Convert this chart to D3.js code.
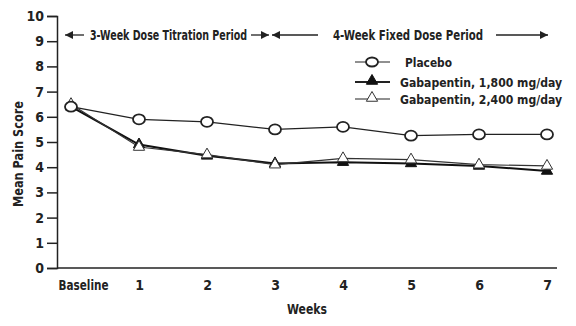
<!DOCTYPE html>
<html>
<head>
<meta charset="utf-8">
<script src="https://cdn.jsdelivr.net/npm/d3@7"></script>
<style>
  body { margin: 0; background: #fff; }
  text { font-family: "DejaVu Sans Condensed", "DejaVu Sans", sans-serif; font-stretch: condensed; font-weight: bold; fill: #222; }
</style>
</head>
<body>
<script>
// chart data
var weeks = ["Baseline", "1", "2", "3", "4", "5", "6", "7"];
var placebo = [6.4, 5.9, 5.8, 5.5, 5.6, 5.25, 5.3, 5.3];
var gaba1800 = [6.4, 4.9, 4.45, 4.15, 4.2, 4.15, 4.05, 3.85];
var gaba2400 = [6.5, 4.8, 4.5, 4.1, 4.35, 4.3, 4.1, 4.05];
var yTicks = [0, 1, 2, 3, 4, 5, 6, 7, 8, 9, 10];
var seriesNames = ["Placebo", "Gabapentin, 1,800 mg/day", "Gabapentin, 2,400 mg/day"];

var svgWidth = 576;
var svgHeight = 326;

var margin = { top: 16, right: 18, bottom: 58, left: 57 };
var width = svgWidth - margin.left - margin.right;
var height = svgHeight - margin.top - margin.bottom;

var svg = d3.select("body")
  .append("svg")
  .attr("width", svgWidth)
  .attr("height", svgHeight);

var chartGroup = svg.append("g")
  .attr("transform", `translate(${margin.left}, ${margin.top})`);

var xScale = d3.scalePoint()
  .domain(weeks)
  .range([14, 490]);

var yScale = d3.scaleLinear()
  .domain([0, 10])
  .range([height, 0]);

// left axis with ticks out to the left
var leftAxis = d3.axisLeft(yScale).tickValues(yTicks).tickSize(10).tickPadding(3);
var yAxisG = chartGroup.append("g").call(leftAxis);
yAxisG.select(".domain").attr("stroke", "#222").attr("stroke-width", 1.5);
yAxisG.selectAll(".tick line").attr("stroke", "#222").attr("stroke-width", 1.5);
yAxisG.selectAll(".tick text").style("font-size", "14px");

// bottom axis: only the line and labels
var bottomAxis = d3.axisBottom(xScale).tickSize(0).tickPadding(12);
var xAxisG = chartGroup.append("g")
  .attr("transform", `translate(0, ${height})`)
  .call(bottomAxis);
xAxisG.select(".domain").attr("d", `M0,0H${width - 1}`).attr("stroke", "#222").attr("stroke-width", 1.5);
xAxisG.selectAll(".tick text").style("font-size", "14px")
  .attr("dx", (d, i) => i === 0 ? 12 : 0)
  .attr("textLength", (d, i) => i === 0 ? 50 : null)
  .attr("lengthAdjust", "spacingAndGlyphs");

// lines
var line = d3.line()
  .x((d, i) => xScale(weeks[i]))
  .y(d => yScale(d));

chartGroup.append("path").datum(placebo).attr("d", line)
  .attr("fill", "none").attr("stroke", "#222").attr("stroke-width", 1.3);
chartGroup.append("path").datum(gaba1800).attr("d", line)
  .attr("fill", "none").attr("stroke", "#111").attr("stroke-width", 2);
chartGroup.append("path").datum(gaba2400).attr("d", line)
  .attr("fill", "none").attr("stroke", "#333").attr("stroke-width", 1.2);

var tri = d3.symbol().type(d3.symbolTriangle).size(55);

chartGroup.selectAll(".m1800").data(gaba1800).enter().append("path")
  .attr("d", tri)
  .attr("transform", (d, i) => `translate(${xScale(weeks[i])}, ${yScale(d)})`)
  .attr("fill", "#111").attr("stroke", "#111");

chartGroup.selectAll(".m2400").data(gaba2400).enter().append("path")
  .attr("d", tri)
  .attr("transform", (d, i) => `translate(${xScale(weeks[i])}, ${yScale(d)})`)
  .attr("fill", "#fff").attr("stroke", "#333").attr("stroke-width", 1);

chartGroup.selectAll(".mplac").data(placebo).enter().append("ellipse")
  .attr("cx", (d, i) => xScale(weeks[i]))
  .attr("cy", d => yScale(d))
  .attr("rx", 6).attr("ry", 5)
  .attr("fill", "#fff").attr("stroke", "#222").attr("stroke-width", 1.8);

// axis titles
svg.append("text")
  .attr("transform", "rotate(-90)")
  .attr("x", -154)
  .attr("y", 23)
  .attr("text-anchor", "middle")
  .attr("textLength", 106)
  .attr("lengthAdjust", "spacingAndGlyphs")
  .style("font-size", "14px")
  .text("Mean Pain Score");

svg.append("text")
  .attr("x", 307)
  .attr("y", 314)
  .attr("text-anchor", "middle")
  .attr("textLength", 40)
  .attr("lengthAdjust", "spacingAndGlyphs")
  .style("font-size", "14px")
  .text("Weeks");

// period annotations with arrows
var defs = svg.append("defs");
defs.append("marker")
  .attr("id", "head")
  .attr("viewBox", "0 0 10 10")
  .attr("refX", 10).attr("refY", 5)
  .attr("markerWidth", 10).attr("markerHeight", 8)
  .attr("markerUnits", "userSpaceOnUse")
  .attr("orient", "auto-start-reverse")
  .append("path").attr("d", "M0,0L10,5L0,10Z").attr("fill", "#222");

var arrowY = 35;
function arrow(x1, x2) {
  svg.append("line")
    .attr("x1", x1).attr("x2", x2)
    .attr("y1", arrowY).attr("y2", arrowY)
    .attr("stroke", "#222").attr("stroke-width", 1.3)
    .attr("marker-end", "url(#head)");
}
arrow(84, 65);
arrow(251, 269);
arrow(318, 272);
arrow(496, 548);

svg.append("text").attr("x", 90).attr("y", arrowY + 5)
  .attr("textLength", 157).attr("lengthAdjust", "spacingAndGlyphs")
  .style("font-size", "14px")
  .text("3-Week Dose Titration Period");
svg.append("text").attr("x", 333).attr("y", arrowY + 5)
  .attr("textLength", 150).attr("lengthAdjust", "spacingAndGlyphs")
  .style("font-size", "14px")
  .text("4-Week Fixed Dose Period");

// legend
var legendRows = [62, 82, 99];
var legendWidths = [47, 162, 162];
var legend = svg.append("g");
legendRows.forEach(function(ly, i) {
  legend.append("line")
    .attr("x1", 355).attr("x2", 390)
    .attr("y1", ly).attr("y2", ly)
    .attr("stroke", "#222").attr("stroke-width", i === 1 ? 2 : 1.2);
  if (i === 0) {
    legend.append("ellipse").attr("cx", 372).attr("cy", ly).attr("rx", 6).attr("ry", 4.5)
      .attr("fill", "#fff").attr("stroke", "#222").attr("stroke-width", 1.8);
  } else {
    legend.append("path").attr("d", tri)
      .attr("transform", `translate(372, ${ly - 1})`)
      .attr("fill", i === 1 ? "#111" : "#fff").attr("stroke", i === 1 ? "#111" : "#333");
  }
  legend.append("text")
    .attr("x", i === 0 ? 405 : 400)
    .attr("y", ly + 4.5)
    .attr("textLength", legendWidths[i])
    .attr("lengthAdjust", "spacingAndGlyphs")
    .style("font-size", "13px")
    .text(seriesNames[i]);
});
</script>
</body>
</html>
